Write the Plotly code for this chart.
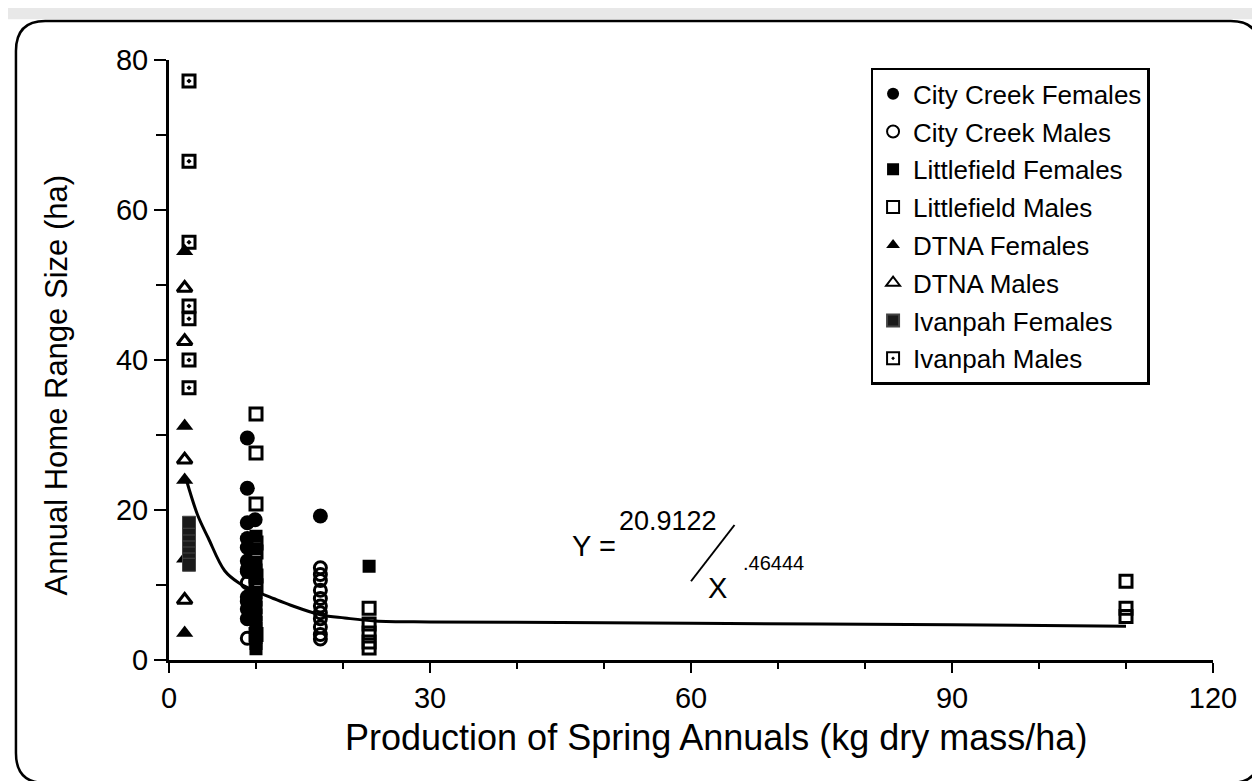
import plotly.graph_objects as go

# ---------------- data ----------------
cc_f_x = [9.0, 9.0, 9.9, 9.0, 9.0, 9.0, 9.0, 9.0, 9.0, 9.0, 9.0, 17.4]
cc_f_y = [29.6, 22.9, 18.7, 18.3, 16.2, 15.0, 13.2, 11.8, 8.4, 6.8, 5.5, 19.2]

cc_m_x = [9.0, 9.0, 9.0, 9.0, 17.4, 17.4, 17.4, 17.4, 17.4, 17.4, 17.4, 17.4, 17.4, 17.4, 17.4]
cc_m_y = [12.1, 10.3, 7.8, 2.9, 12.3, 11.4, 10.6, 9.3, 8.2, 7.2, 6.3, 5.5, 4.4, 3.4, 2.8]

lf_f_x = [10.0] * 14 + [23.0]
lf_f_y = [16.5, 14.8, 13.0, 12.0, 10.8, 9.0, 8.0, 7.0, 6.0, 5.0, 4.2, 3.0, 2.2, 1.5, 12.5]

lf_m_x = [10.0] * 8 + [23.0] * 5 + [110.0] * 3
lf_m_y = [32.8, 27.6, 20.8, 15.6, 14.4, 11.2, 9.9, 3.4,
          6.9, 4.8, 3.6, 2.4, 1.6,
          10.5, 6.9, 5.8]

dtna_f_x = [1.8] * 5
dtna_f_y = [54.5, 31.2, 24.0, 13.5, 3.6]

dtna_m_x = [1.8] * 4
dtna_m_y = [49.6, 42.5, 26.7, 8.0]

iv_f_x = [2.3] * 7
iv_f_y = [18.3, 16.7, 15.8, 15.0, 14.2, 13.4, 12.7]

iv_m_x = [2.3] * 7
iv_m_y = [77.2, 66.5, 55.7, 47.2, 45.5, 40.0, 36.3]

curve_x = [2.0, 3.3, 4.5, 6.4, 8.0, 9.9, 12.0, 14.0, 17.5, 20.2, 23.7, 30, 45, 60, 75, 90, 110]
curve_y = [24.0, 19.3, 16.3, 11.9, 10.3, 9.2, 8.2, 7.3, 6.0, 5.6, 5.2, 5.07, 5.0, 4.9, 4.8, 4.7, 4.5]

x_ticks = [0, 30, 60, 90, 120]
y_ticks = [0, 20, 40, 60, 80]

FONT = "Liberation Sans, Arial, sans-serif"

fig = go.Figure()

fig.add_trace(go.Scatter(x=curve_x, y=curve_y, mode="lines", line=dict(color="black", width=3, shape="spline"),
                         showlegend=False, hoverinfo="skip"))

series = [
    ("City Creek Females", cc_f_x, cc_f_y, dict(symbol="circle", size=15, color="black", line=dict(width=0))),
    ("City Creek Males", cc_m_x, cc_m_y, dict(symbol="circle-open", size=12, color="black", line=dict(width=3, color="black"))),
    ("Littlefield Females", lf_f_x, lf_f_y, dict(symbol="square", size=13, color="black", line=dict(width=0))),
    ("Littlefield Males", lf_m_x, lf_m_y, dict(symbol="square-open", size=12, color="black", line=dict(width=3, color="black"))),
    ("DTNA Females", dtna_f_x, dtna_f_y, dict(symbol="triangle-up", size=15, color="black", line=dict(width=0))),
    ("DTNA Males", dtna_m_x, dtna_m_y, dict(symbol="triangle-up-open", size=13, color="black", line=dict(width=3, color="black"))),
    ("Ivanpah Females", iv_f_x, iv_f_y, dict(symbol="square", size=13, color="#1a1a1a", line=dict(width=1, color="#444"))),
    ("Ivanpah Males", iv_m_x, iv_m_y, dict(symbol="square-open-dot", size=12, color="black", line=dict(width=3, color="black"))),
]
for i, (name, xs, ys, mk) in enumerate(series):
    fig.add_trace(go.Scatter(x=xs, y=ys, mode="markers", name=name, marker=mk, legendgroup=f"g{i}"))

# equation
fig.add_annotation(x=48.8, y=15.2, xref="x", yref="y", text="Y =", showarrow=False,
                   font=dict(family=FONT, size=29, color="black"))
fig.add_annotation(x=57.4, y=18.5, xref="x", yref="y", text="20.9122", showarrow=False,
                   font=dict(family=FONT, size=27, color="black"))
fig.add_annotation(x=63.0, y=9.6, xref="x", yref="y", text="X", showarrow=False,
                   font=dict(family=FONT, size=29, color="black"))
fig.add_annotation(x=69.5, y=12.9, xref="x", yref="y", text=".46444", showarrow=False,
                   font=dict(family=FONT, size=20, color="black"))
fig.add_shape(type="line", xref="x", yref="y", x0=65.0, y0=18.0, x1=60.0, y1=10.5,
              line=dict(color="black", width=2))

# axis titles
fig.add_annotation(x=0.524, y=-0.13, xref="paper", yref="paper", text="Production of Spring Annuals (kg dry mass/ha)",
                   showarrow=False, xanchor="center", yanchor="middle",
                   font=dict(family=FONT, size=36, color="black"))
fig.add_annotation(x=-0.108, y=0.458, xref="paper", yref="paper", text="Annual Home Range Size (ha)",
                   showarrow=False, xanchor="center", yanchor="middle", textangle=-90,
                   font=dict(family=FONT, size=31, color="black"))

# outer rounded frame (paper coords)
x0, x1, yt, yb = -0.1466, 1.045, 1.065, -0.205
rx, ry = 0.028, 0.05
path = (f"M {x0+rx},{yt} L {x1-rx},{yt} Q {x1},{yt} {x1},{yt-ry} L {x1},{yb+ry} Q {x1},{yb} {x1-rx},{yb} "
        f"L {x0+rx},{yb} Q {x0},{yb} {x0},{yb+ry} L {x0},{yt-ry} Q {x0},{yt} {x0+rx},{yt} Z")
fig.add_shape(type="path", xref="paper", yref="paper", path=path, line=dict(color="black", width=2.5),
              layer="below")
fig.add_shape(type="rect", xref="paper", yref="paper", x0=-0.2, x1=1.06, y0=1.068, y1=1.09,
              line=dict(width=0), fillcolor="#d8d8d8", opacity=0.6, layer="below")

fig.update_layout(
    width=1260, height=781,
    margin=dict(l=161, r=55, t=52, b=129, autoexpand=False),
    paper_bgcolor="white", plot_bgcolor="white",
    font=dict(family=FONT, color="black"),
    legend=dict(x=0.672, y=0.987, xanchor="left", yanchor="top",
                bordercolor="black", borderwidth=2.5, bgcolor="white",
                font=dict(family=FONT, size=26, color="black"),
                tracegroupgap=1, itemsizing="constant"),
    xaxis=dict(range=[0, 120], tickvals=x_ticks, ticktext=[str(v) for v in x_ticks],
               showgrid=False, zeroline=False, showline=True, linecolor="black", linewidth=3,
               ticks="outside", ticklen=10, tickwidth=2, tickcolor="black",
               tickfont=dict(family=FONT, size=29),
               minor=dict(tickvals=[10, 20, 40, 50, 70, 80, 100, 110], ticks="outside", ticklen=6,
                          tickwidth=2, tickcolor="black")),
    yaxis=dict(range=[0, 80], tickvals=y_ticks, ticktext=[str(v) for v in y_ticks],
               showgrid=False, zeroline=False, showline=True, linecolor="black", linewidth=3,
               ticks="outside", ticklen=12, tickwidth=2, tickcolor="black",
               tickfont=dict(family=FONT, size=29),
               minor=dict(tickvals=[10, 30, 50, 70], ticks="outside", ticklen=10,
                          tickwidth=2, tickcolor="black")),
)

fig.write_html("out.html")
